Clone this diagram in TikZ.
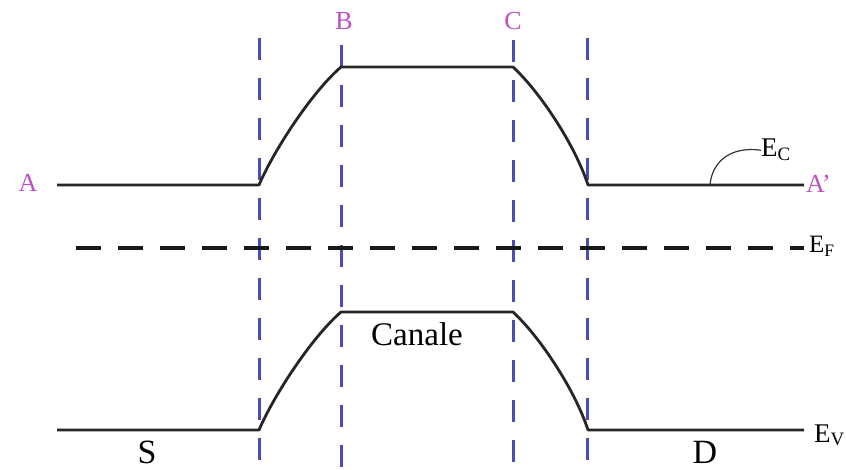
\documentclass[tikz,border=0pt]{standalone}
\usepackage{fontspec}
\setmainfont{Liberation Serif}
\definecolor{vblue}{RGB}{75,75,185}
\definecolor{lmag}{RGB}{190,80,200}
\begin{document}
\begin{tikzpicture}[x=1pt,y=-1pt,
  band/.style={line width=2.8pt,black!85,line join=round},
  vline/.style={vblue,line width=3pt,dash pattern=on 22pt off 18pt},
  fermi/.style={black!90,line width=3.2pt,dash pattern=on 25pt off 17pt},
  ptlabel/.style={text=lmag,font=\fontsize{26}{30}\selectfont,inner sep=0pt},
  elabel/.style={font=\fontsize{27}{30}\selectfont,inner sep=0pt,anchor=base west},
  rlabel/.style={font=\fontsize{34}{40}\selectfont,inner sep=0pt,anchor=base}]
\useasboundingbox (0,0) rectangle (846,470);
% vertical dashed lines
\coordinate (v1t) at (259,38); \coordinate (v1b) at (259,470);
\coordinate (v2t) at (341,45); \coordinate (v2b) at (341,470);
\coordinate (v3t) at (513,40); \coordinate (v3b) at (513,470);
\coordinate (v4t) at (587,38); \coordinate (v4b) at (587,470);
\draw[vline] (v1t) -- (v1b);
\draw[vline] (v2t) -- (v2b);
\draw[vline] (v3t) -- (v3b);
\draw[vline] (v4t) -- (v4b);
% conduction band
\coordinate (c0) at (57,185); \coordinate (c1) at (259,185);
\coordinate (c2) at (341,67); \coordinate (c3) at (513,67);
\coordinate (c4) at (588,185); \coordinate (c5) at (804,185);
\draw[band] (c0) -- (c1) .. controls (274,150) and (312,92) .. (c2) -- (c3)
  .. controls (540,92) and (575,145) .. (c4) -- (c5);
% valence band
\coordinate (w0) at (57,430); \coordinate (w1) at (259,430);
\coordinate (w2) at (341,312); \coordinate (w3) at (513,312);
\coordinate (w4) at (588,430); \coordinate (w5) at (804,430);
\draw[band] (w0) -- (w1) .. controls (274,395) and (312,337) .. (w2) -- (w3)
  .. controls (540,337) and (575,390) .. (w4) -- (w5);
% Fermi level
\coordinate (f0) at (76,248); \coordinate (f1) at (804,248);
\draw[fermi] (f0) -- (f1);
% labels
\node[ptlabel,anchor=base] (A) at (28,192) {A};
\node[ptlabel,anchor=base west] (Ap) at (806,193) {A'};
\node[ptlabel,anchor=base] (B) at (344,30) {B};
\node[ptlabel,anchor=base] (C) at (513,30) {C};
\node[elabel] (Ec) at (761,157) {E\textsubscript{C}};
\node[elabel,font=\fontsize{25}{30}\selectfont] (Ef) at (809,253) {E\textsubscript{F}};
\node[elabel] (Ev) at (814,442) {E\textsubscript{V}};
\coordinate (ecfoot) at (710,185);
\draw[black!80,line width=1.2pt] (ecfoot) .. controls (712,162) and (730,146) .. (Ec.west);
\node[rlabel] (S) at (147,463) {S};
\node[rlabel] (D) at (705,463) {D};
\node[rlabel,font=\fontsize{33}{38}\selectfont] (Can) at (417,345) {Canale};
\end{tikzpicture}
\end{document}
